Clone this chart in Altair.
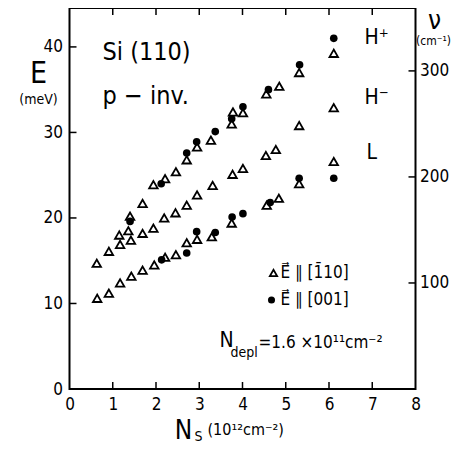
import altair as alt
import pandas as pd

# ---- data ----
# open triangles: E || [-110]
N_tri = [0.63, 0.91, 1.15, 1.36, 1.40, 1.69, 1.94, 2.21, 2.46, 2.71, 2.95, 3.27, 3.75, 3.78, 4.01, 4.55, 4.85, 5.31, 6.11,
         1.17, 1.42, 1.69, 1.94, 2.19, 2.45, 2.71, 2.95, 3.31, 3.77, 4.01, 4.54, 4.77, 5.31, 6.11,
         0.64, 0.91, 1.17, 1.43, 1.69, 1.96, 2.21, 2.46, 2.71, 2.95, 3.29, 3.75, 4.56, 4.84, 5.31, 6.11]
E_tri = [14.7, 16.1, 18.0, 18.5, 20.2, 21.7, 23.9, 24.6, 25.4, 26.8, 28.3, 29.1, 31.0, 32.4, 32.3, 34.5, 35.4, 37.0, 39.25,
         16.9, 17.4, 18.2, 18.8, 20.0, 20.6, 21.5, 22.7, 23.8, 25.1, 25.8, 27.3, 28.0, 30.8, 32.9,
         10.6, 11.2, 12.4, 13.2, 13.9, 14.5, 15.4, 15.7, 17.1, 17.5, 17.8, 19.4, 21.5, 22.3, 24.0, 26.6]
# filled circles: E || [001]
N_cir = [1.40, 2.12, 2.71, 2.94, 3.37, 3.75, 4.01, 4.60, 5.32, 6.11,
         2.13, 2.71, 2.94, 3.37, 3.76, 4.01, 4.64, 5.31, 6.11]
E_cir = [19.6, 24.0, 27.6, 28.9, 30.1, 31.6, 33.0, 35.0, 37.9, 41.0,
         15.1, 15.9, 18.4, 18.3, 20.1, 20.5, 21.8, 24.65, 24.65]

LAB_TRI = "E\u20d7 \u2225 [1\u030410]"
LAB_CIR = "E\u20d7 \u2225 [001]"

x_ticks = [1, 2, 3, 4, 5, 6, 7]
x_labels = [0, 1, 2, 3, 4, 5, 6, 7, 8]
e_ticks = [10, 20, 30, 40]
e_labels = [0, 10, 20, 30, 40]
nu_ticks = [100, 200, 300]
MEV_TO_CM = 8.0655
EMAX = 44.55

W, H = 346, 381
FONT = "DejaVu Sans Condensed, Liberation Sans Narrow, DejaVu Sans"

df_tri = pd.DataFrame({"N": N_tri, "E": E_tri})
df_cir = pd.DataFrame({"N": N_cir, "E": E_cir})

xsc = alt.Scale(domain=[0, 8], nice=False)
ysc = alt.Scale(domain=[0, EMAX], nice=False)

x_enc = alt.X("N:Q", scale=xsc,
              axis=alt.Axis(values=x_labels, ticks=False, domain=False, grid=False, labelFlush=False,
                            title=None, labelPadding=7, labelFontSize=17, format="d"))
y_enc = alt.Y("E:Q", scale=ysc,
              axis=alt.Axis(values=e_labels, ticks=False, domain=False, grid=False, labelFlush=False,
                            title=None, labelPadding=7, labelFontSize=17, format="d"))

circles = alt.Chart(df_cir).mark_point(shape="circle", filled=True, color="black", size=58, opacity=1).encode(
    x=x_enc, y=y_enc)
triangles = alt.Chart(df_tri).mark_point(shape="triangle-up", filled=False, color="black", size=72,
                                         strokeWidth=1.8, opacity=1).encode(x="N:Q", y="E:Q")

# inward ticks
tick_x_df = pd.DataFrame({"N": x_ticks})
tick_bottom = alt.Chart(tick_x_df).mark_rule(color="black", strokeWidth=1.5).encode(
    x=alt.X("N:Q", scale=xsc), y=alt.value(H), y2=alt.value(H - 7))
tick_top = alt.Chart(tick_x_df).mark_rule(color="black", strokeWidth=1.5).encode(
    x=alt.X("N:Q", scale=xsc), y=alt.value(0), y2=alt.value(7))
tick_left = alt.Chart(pd.DataFrame({"E": e_ticks})).mark_rule(color="black", strokeWidth=1.5).encode(
    y=alt.Y("E:Q", scale=ysc), x=alt.value(0), x2=alt.value(7))


def txt(s, px, py, size, align="left", baseline="middle", weight="normal"):
    return alt.Chart(pd.DataFrame({"t": [s]})).mark_text(
        align=align, baseline=baseline, fontSize=size, font=FONT, fontWeight=weight, color="black"
    ).encode(text="t:N", x=alt.value(px), y=alt.value(py))


# hand-made legend (key symbols + labels)
leg_tri = alt.Chart(pd.DataFrame({"k": [LAB_TRI]})).mark_point(
    shape="triangle-up", filled=False, color="black", size=55, strokeWidth=1.7, opacity=1
).encode(x=alt.value(204), y=alt.value(265))
leg_cir = alt.Chart(pd.DataFrame({"k": [LAB_CIR]})).mark_point(
    shape="circle", filled=True, color="black", size=50, opacity=1
).encode(x=alt.value(202), y=alt.value(292))

texts = [
    txt("E", -31, 66, 30, align="center"),
    txt("(meV)", -31, 92, 14, align="center"),
    txt("\u03bd", 365, 0, 26, align="center", baseline="top"),
    txt("(cm\u207b\u00b9)", 364, 33, 12, align="center"),
    txt("N", 114, 423, 26, align="center"),
    txt("S", 125, 429, 14, align="left"),
    txt("(10\u00b9\u00b2cm\u207b\u00b2)", 138, 422, 16, align="left"),
    txt("Si (110)", 33, 44, 25),
    txt("p \u2212 inv.", 33, 88, 25),
    txt("H\u207a", 295, 30, 21),
    txt("H\u207b", 295, 90, 21),
    txt("L", 297, 145, 21),
    txt(LAB_TRI, 211, 265, 17),
    txt(LAB_CIR, 211, 292, 17),
    txt("N", 150, 333, 21),
    txt("depl", 161, 345, 14),
    txt("=1.6 \u00d710\u00b9\u00b9cm\u207b\u00b2", 189, 335, 17),
]

inner = alt.layer(circles, triangles, tick_bottom, tick_top, tick_left, leg_tri, leg_cir, *texts)

nu_layer = alt.Chart(pd.DataFrame({"nu": nu_ticks})).mark_rule(color="black", strokeWidth=1.5).encode(
    y=alt.Y("nu:Q", scale=alt.Scale(domain=[0, EMAX * MEV_TO_CM], nice=False),
            axis=alt.Axis(orient="right", values=nu_ticks, ticks=False, domain=False, grid=False,
                          title=None, labelPadding=4, labelFontSize=17)),
    x=alt.value(W - 7), x2=alt.value(W),
)

chart = alt.layer(inner, nu_layer).resolve_scale(y="independent").properties(
    width=W, height=H,
    autosize=alt.AutoSizeParams(type="none"),
    padding={"left": 61.5, "top": 0, "right": 37.5, "bottom": 57},
).configure_view(stroke="black", strokeWidth=2).configure_axis(
    labelFont=FONT, labelColor="black"
)

chart.save("out.html", embed_options={"renderer": "svg", "actions": False})
